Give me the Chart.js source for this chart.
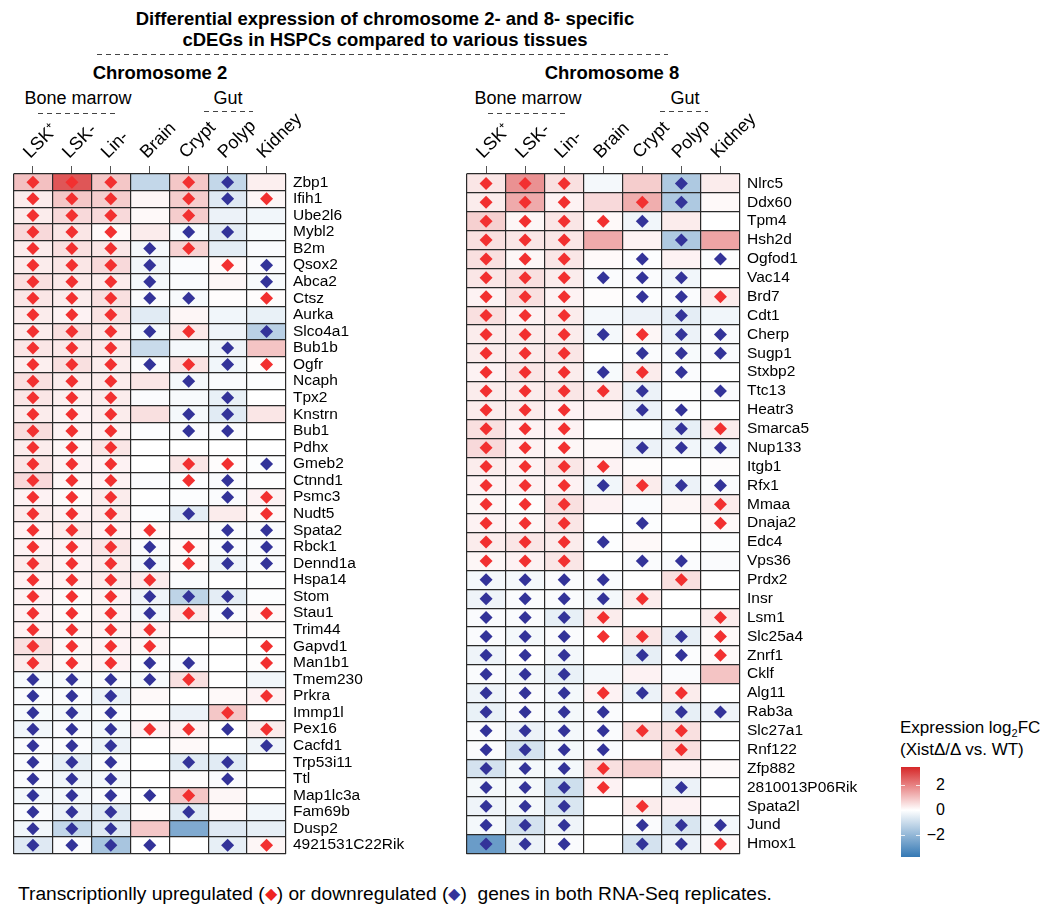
<!DOCTYPE html>
<html>
<head>
<meta charset="utf-8">
<script src="https://cdn.jsdelivr.net/npm/chart.js@4.4.1/dist/chart.umd.min.js"></script>
<style>
  html, body { margin: 0; padding: 0; background: #fff; }
  body { width: 1054px; height: 909px; position: relative; overflow: hidden;
         font-family: "Liberation Sans", Arial, Helvetica, sans-serif; color: #000; }
  .t { position: absolute; white-space: nowrap; line-height: 1; }
  .b { font-weight: bold; }
  canvas { position: absolute; }
  svg.dash { position: absolute; left: 0; top: 0; }
</style>
</head>
<body>

<!-- headings -->
<div class="t b" style="left:0;width:770px;text-align:center;top:10px;font-size:18.5px;">Differential expression of chromosome 2- and 8- specific</div>
<div class="t b" style="left:0;width:770px;text-align:center;top:31px;font-size:18.5px;">cDEGs in HSPCs compared to various tissues</div>
<div class="t b" style="left:60px;width:200px;text-align:center;top:64px;font-size:18.5px;">Chromosome 2</div>
<div class="t b" style="left:512px;width:200px;text-align:center;top:64px;font-size:18.5px;">Chromosome 8</div>

<div class="t" style="left:0;width:156px;text-align:center;top:89px;font-size:18px;">Bone marrow</div>
<div class="t" style="left:178px;width:100px;text-align:center;top:89px;font-size:18px;">Gut</div>
<div class="t" style="left:450px;width:156px;text-align:center;top:89px;font-size:18px;">Bone marrow</div>
<div class="t" style="left:635px;width:100px;text-align:center;top:89px;font-size:18px;">Gut</div>

<svg class="dash" width="1054" height="130">
  <g stroke="#444" stroke-width="1" stroke-dasharray="5 4" fill="none">
    <line x1="97" y1="54.5" x2="668" y2="54.5"/>
    <line x1="38" y1="113.5" x2="118" y2="113.5"/>
    <line x1="204" y1="111.5" x2="253" y2="111.5"/>
    <line x1="488" y1="113.5" x2="567" y2="113.5"/>
    <line x1="660" y1="111.5" x2="708" y2="111.5"/>
  </g>
</svg>

<canvas id="chr2" width="429" height="756" style="left:7px;top:104px;width:429px;height:756px;"></canvas>
<canvas id="chr8" width="430" height="756" style="left:460px;top:104px;width:430px;height:756px;"></canvas>

<!-- colour key -->
<div class="t" style="left:900px;top:719px;font-size:17px;">Expression log<sub style="font-size:11px;vertical-align:-4px;line-height:0;">2</sub>FC</div>
<div class="t" style="left:900px;top:741px;font-size:17px;">(Xist&Delta;/&Delta; vs. WT)</div>
<div id="keybar" style="position:absolute;left:901px;top:767px;width:19px;height:90px;"></div>
<div id="keyticks"></div>

<!-- footnote -->
<div class="t" style="left:18px;top:884px;font-size:19.2px;">Transcriptionlly upregulated (<span style="color:#EE2222;font-size:16px;vertical-align:1px;">&#9670;</span>) or downregulated (<span style="color:#333399;font-size:16px;vertical-align:1px;">&#9670;</span>)&nbsp; genes in both RNA-Seq replicates.</div>

<script>
// Sample columns (tissues / cell populations)
const tissues = ['LSK\u207A', 'LSK-', 'Lin-', 'Brain', 'Crypt', 'Polyp', 'Kidney'];

// Chromosome 2 genes, log2 fold changes (one row per gene, columns as in `tissues`)
const chr2Genes = ['Zbp1','Ifih1','Ube2l6','Mybl2','B2m','Qsox2','Abca2','Ctsz','Aurka','Slco4a1',
  'Bub1b','Ogfr','Ncaph','Tpx2','Knstrn','Bub1','Pdhx','Gmeb2','Ctnnd1','Psmc3','Nudt5','Spata2',
  'Rbck1','Dennd1a','Hspa14','Stom','Stau1','Trim44','Gapvd1','Man1b1','Tmem230','Prkra','Immp1l',
  'Pex16','Cacfd1','Trp53i11','Ttl','Map1lc3a','Fam69b','Dusp2','4921531C22Rik'];
const chr2LogFC = [
  [1.0, 2.7, 0.9, -1.1, 0.9, -1.1, 0.25],
  [0.3, 0.9, 0.8, 0.15, 0.8, -0.6, 0.15],
  [0.3, 0.6, 0.6, 0.1, 0.8, -0.35, -0.25],
  [0.6, 0.4, 0.1, 0.3, -0.15, -0.5, -0.15],
  [0.3, 0.5, 0.4, -0.2, 0.7, -0.5, -0.1],
  [0.3, 0.4, 0.6, -0.25, -0.1, 0.1, -0.1],
  [0.5, 0.35, 0.3, -0.2, -0.1, 0.15, -0.15],
  [0.4, 0.3, 0.5, -0.1, -0.15, 0.05, 0.05],
  [0.3, 0.2, 0.45, -0.55, 0.15, -0.25, -0.4],
  [0.3, 0.5, 0.35, -0.2, 0.35, -0.3, -1.3],
  [0.4, 0.35, 0.35, -1.0, -0.2, -0.3, 0.95],
  [0.25, 0.5, 0.3, -0.1, 0.45, -0.25, 0.05],
  [0.5, 0.3, 0.3, 0.4, -0.2, -0.1, -0.05],
  [0.4, 0.25, 0.3, -0.1, -0.15, -0.4, 0.0],
  [0.3, 0.2, 0.3, 0.5, -0.2, -0.55, 0.4],
  [0.55, 0.2, 0.2, -0.05, -0.1, -0.1, 0.0],
  [0.3, 0.15, 0.4, 0.0, 0.0, 0.0, 0.0],
  [0.4, 0.2, 0.2, 0.0, 0.4, 0.05, -0.05],
  [0.6, 0.15, 0.2, -0.1, -0.05, -0.1, -0.05],
  [0.2, 0.1, 0.3, 0.0, -0.05, -0.1, 0.2],
  [0.3, 0.2, 0.3, -0.05, -0.5, 0.3, 0.1],
  [0.2, 0.3, 0.2, 0.1, 0.1, -0.1, -0.1],
  [0.2, 0.2, 0.4, -0.1, 0.1, -0.1, -0.1],
  [0.3, 0.2, 0.3, -0.2, 0.1, -0.3, -0.1],
  [0.2, 0.2, 0.3, 0.3, -0.1, 0.0, -0.05],
  [0.2, 0.1, 0.2, -0.3, -1.2, -0.5, -0.05],
  [0.2, 0.1, 0.2, -0.2, 0.3, -0.1, 0.1],
  [0.2, 0.15, 0.2, 0.2, 0.0, 0.1, 0.05],
  [0.5, 0.15, 0.2, 0.15, 0.0, 0.0, 0.0],
  [0.3, 0.15, 0.2, -0.05, -0.1, 0.0, 0.05],
  [-0.15, -0.15, -0.1, -0.15, 0.5, 0.0, -0.25],
  [-0.1, -0.1, -0.35, 0.1, 0.0, 0.1, 0.2],
  [-0.15, -0.2, -0.1, 0.05, -0.35, 0.9, 0.0],
  [-0.25, -0.1, -0.2, 0.2, 0.2, 0.0, 0.3],
  [-0.1, -0.1, -0.35, 0.0, 0.1, 0.0, -0.3],
  [-0.1, -0.45, -0.1, 0.0, -0.55, -0.55, 0.0],
  [-0.1, -0.25, -0.2, 0.0, 0.05, -0.1, 0.0],
  [-0.2, -0.2, -0.1, 0.0, 0.9, 0.15, 0.0],
  [-0.1, -0.35, -0.55, 0.05, -0.55, 0.1, -0.25],
  [-0.25, -1.1, -0.6, 0.9, -2.35, -0.6, -0.45],
  [-0.6, -0.1, -1.6, 0.0, 0.0, -0.45, 0.15]
];
// Replicate calls: U = upregulated in both replicates, D = downregulated, . = neither
const chr2Calls = ['UUU.UD.','UUU.UDU','UUU.U..','UUU.DD.','UUUDU..','UUUD.UD','UUUD..D','UUUDD.U',
  'UUU....','UUUDU.D','UUU..D.','UUUDUDU','UUU.D..','UUU..D.','UUU.DD.','UUU.DD.','UUU....','UUU.UUD',
  'UUU.UD.','UUU..DU','UUU.D.U','UUUU.DD','UUUDUDD','UUUDUDD','UUUU...','UUUDDD.','UUUDUDU','UUUU...',
  'UUUU..U','UUUDD.U','DDDDU..','DDD...U','DDD..U.','DDDUUDU','DDD...D','DDD.DD.','DDD..D.','DDDDU..',
  'DDD.D..','DDD....','DDDD.DU'];

// Chromosome 8 genes
const chr8Genes = ['Nlrc5','Ddx60','Tpm4','Hsh2d','Ogfod1','Vac14','Brd7','Cdt1','Cherp','Sugp1',
  'Stxbp2','Ttc13','Heatr3','Smarca5','Nup133','Itgb1','Rfx1','Mmaa','Dnaja2','Edc4','Vps36','Prdx2',
  'Insr','Lsm1','Slc25a4','Znrf1','Cklf','Alg11','Rab3a','Slc27a1','Rnf122','Zfp882','2810013P06Rik',
  'Spata2l','Jund','Hmox1'];
const chr8LogFC = [
  [0.4, 1.75, 0.5, -0.2, 0.8, -1.5, 0.3],
  [0.3, 1.35, 0.2, 0.6, 1.3, -1.5, 0.1],
  [0.75, 0.15, 0.4, 0.1, -0.25, 0.3, 0.0],
  [0.5, 0.4, 0.4, 1.35, 0.2, -1.5, 1.45],
  [0.5, 0.15, 0.4, 0.1, -0.05, 0.2, -0.05],
  [0.4, 0.5, 0.3, -0.1, -0.1, -0.25, 0.0],
  [0.2, 0.5, 0.2, 0.05, -0.05, -0.1, 0.3],
  [0.5, 0.2, 0.3, -0.2, -0.35, -0.5, -0.25],
  [0.3, 0.3, 0.3, -0.2, 0.15, -0.35, -0.1],
  [0.3, 0.3, 0.4, 0.0, -0.1, -0.15, -0.1],
  [0.2, 0.4, 0.3, -0.15, 0.3, -0.1, 0.0],
  [0.3, 0.3, 0.4, 0.3, -0.35, -0.05, -0.1],
  [0.3, 0.3, 0.2, 0.2, -0.35, -0.05, 0.0],
  [0.5, 0.2, 0.2, 0.0, -0.05, -0.45, 0.3],
  [0.6, 0.2, 0.15, 0.1, -0.35, -0.25, -0.2],
  [0.3, 0.2, 0.4, 0.2, 0.05, 0.0, 0.05],
  [0.2, 0.2, 0.2, -0.25, 0.3, -0.35, -0.1],
  [0.15, 0.05, 0.5, 0.2, -0.1, 0.15, 0.3],
  [0.2, 0.15, 0.4, 0.0, -0.05, 0.0, 0.1],
  [0.3, 0.4, 0.3, -0.05, 0.1, 0.0, -0.05],
  [0.15, 0.2, 0.4, 0.0, -0.1, -0.1, -0.1],
  [-0.2, -0.2, -0.1, -0.1, 0.0, 0.5, 0.0],
  [-0.3, -0.1, -0.1, -0.2, 0.3, 0.0, 0.0],
  [-0.1, -0.1, -0.45, 0.3, 0.0, 0.0, 0.3],
  [-0.1, -0.2, -0.1, 0.0, 0.4, -0.45, 0.1],
  [-0.3, 0.0, -0.2, 0.0, -0.45, -0.05, 0.1],
  [-0.1, -0.2, -0.4, -0.2, 0.2, -0.1, 0.95],
  [-0.3, -0.1, -0.2, 0.2, -0.35, 0.3, 0.0],
  [-0.4, -0.1, -0.2, -0.1, 0.0, -0.45, -0.3],
  [-0.1, -0.35, -0.2, -0.1, 0.5, 0.5, 0.0],
  [-0.1, -0.8, -0.2, -0.1, 0.0, 0.5, 0.0],
  [-0.8, -0.2, -0.2, 0.5, 0.75, 0.2, 0.1],
  [-0.2, -0.2, -0.9, 0.2, 0.0, -0.35, 0.0],
  [-0.3, -0.2, -0.7, 0.0, 0.3, 0.2, 0.0],
  [-0.2, -0.8, -0.3, 0.0, -0.1, -0.7, -0.2],
  [-2.75, -0.35, -0.1, 0.0, -0.8, -0.35, 0.1]
];
const chr8Calls = ['UUU..D.','UUU.UD.','UUUUD..','UUU..D.','UUU.D.D','UUUDDD.','UUU.DDU','UUU..D.',
  'UUUDUDD','UUU.DDD','UUUDUD.','UUUUD.D','UUU.DD.','UUU..DU','UUU.DDD','UUUU...','UUUDUDD','UUU...U',
  'UUU.D.U','UUUD...','UUU.DD.','DDDD.U.','DDDDU..','DDDU..U','DDDUUDU','DDD.DDU','DDD....','DDDUDU.',
  'DDDD.DD','DDDDUU.','DDDD.U.','DDDU...','DDDU.D.','DDD.U..','DDD.DDD','DDD.DDU'];

// Colour key range and labelled ticks
const fcRange = [-3.75, 3.45];
const keyTicks = [2, 0, -2];

const RED = [214, 39, 40], BLUE = [52, 120, 180];
function fcColor(v) {
  const end = v >= 0 ? RED : BLUE;
  const t = Math.min(Math.abs(v) / (v >= 0 ? fcRange[1] : -fcRange[0]), 1);
  const c = end.map(e => Math.round(255 + (e - 255) * t));
  return `rgb(${c[0]},${c[1]},${c[2]})`;
}

const FONT = '"Liberation Sans", Arial, sans-serif';
const GRID = '#2a2a2a';

// keep the plot area at a fixed size: no automatic edge padding from labels
function noPad(s) { s.paddingLeft = 0; s.paddingRight = 0; s.paddingTop = 0; s.paddingBottom = 0; }

function heatmap(canvasId, genes, logFC, calls) {
  const cells = tissues.map((name, c) => ({
    type: 'bar',
    label: name,
    indexAxis: 'y',
    grouped: false,
    data: genes.map(() => [c, c + 1]),
    backgroundColor: genes.map((g, r) => fcColor(logFC[r][c])),
    borderWidth: 0,
    barPercentage: 1,
    categoryPercentage: 1,
    order: 2
  }));
  const marks = (flag) => {
    const out = [];
    genes.forEach((g, r) => {
      for (let c = 0; c < tissues.length; c++) if (calls[r][c] === flag) out.push({ x: c + 0.5, y: g });
    });
    return out;
  };
  const diamond = (flag, color) => ({
    type: 'scatter', label: flag, data: marks(flag),
    pointStyle: 'rectRot', pointRadius: 6.5, pointHoverRadius: 6.5,
    backgroundColor: color, borderWidth: 0, order: 1
  });

  return new Chart(document.getElementById(canvasId), {
    type: 'bar',
    data: { labels: genes, datasets: [diamond('U', '#F23030'), diamond('D', '#333399'), ...cells] },
    options: {
      indexAxis: 'y',
      responsive: false,
      animation: false,
      events: [],
      devicePixelRatio: 1,
      layout: { padding: { left: 2, right: 0, top: 0, bottom: 2 } },
      plugins: { legend: { display: false }, tooltip: { enabled: false }, title: { display: false } },
      scales: {
        x: {
          type: 'linear', position: 'top', min: 0, max: 7, offset: false,
          afterBuildTicks: s => { s.ticks = tissues.map((t, i) => ({ value: i + 0.5 })); },
          afterFit: s => { s.height = 70; noPad(s); },
          border: { display: false },
          grid: { drawOnChartArea: false, drawTicks: true, tickLength: 8, color: '#555', lineWidth: 1 },
          ticks: {
            autoSkip: false, minRotation: 45, maxRotation: 45, padding: 3, labelOffset: 9,
            color: '#000', font: { family: FONT, size: 18 },
            callback: (v, i) => tissues[i]
          }
        },
        x2: {
          type: 'linear', axis: 'x', position: 'bottom', min: 0, max: 7, offset: false,
          afterFit: s => { s.height = 0; noPad(s); },
          border: { display: false },
          grid: { z: 1, drawTicks: false, color: GRID, lineWidth: 1.2 },
          ticks: { display: false, stepSize: 1 }
        },
        y: {
          type: 'category', position: 'right', offset: true,
          afterFit: s => { s.width = 150; noPad(s); },
          border: { display: false },
          grid: { z: 1, offset: true, drawTicks: false, color: GRID, lineWidth: 1.2 },
          ticks: { autoSkip: false, padding: 7, color: '#000', font: { family: FONT, size: 15.5 } }
        }
      }
    }
  });
}

heatmap('chr2', chr2Genes, chr2LogFC, chr2Calls);
heatmap('chr8', chr8Genes, chr8LogFC, chr8Calls);

// colour key gradient and labels
(function () {
  const bar = document.getElementById('keybar');
  const span = fcRange[1] - fcRange[0];
  const zeroPct = (fcRange[1] / span) * 100;
  bar.style.background = `linear-gradient(to bottom, ${fcColor(fcRange[1])} 0%, #ffffff ${zeroPct}%, ${fcColor(fcRange[0])} 100%)`;
  const host = document.getElementById('keyticks');
  keyTicks.forEach(v => {
    const y = 767 + (fcRange[1] - v) / span * 90;
    const lab = document.createElement('div');
    lab.className = 't';
    lab.style.cssText = `left:905px;width:40px;text-align:right;top:${y - 8}px;font-size:16px;`;
    lab.textContent = v < 0 ? '\u2212' + Math.abs(v) : String(v);
    host.appendChild(lab);
    [901, 916].forEach(x => {
      const m = document.createElement('div');
      m.style.cssText = `position:absolute;left:${x}px;top:${Math.round(y)}px;width:4px;height:1px;background:rgba(255,255,255,0.8);`;
      host.appendChild(m);
    });
  });
})();
</script>
</body>
</html>
